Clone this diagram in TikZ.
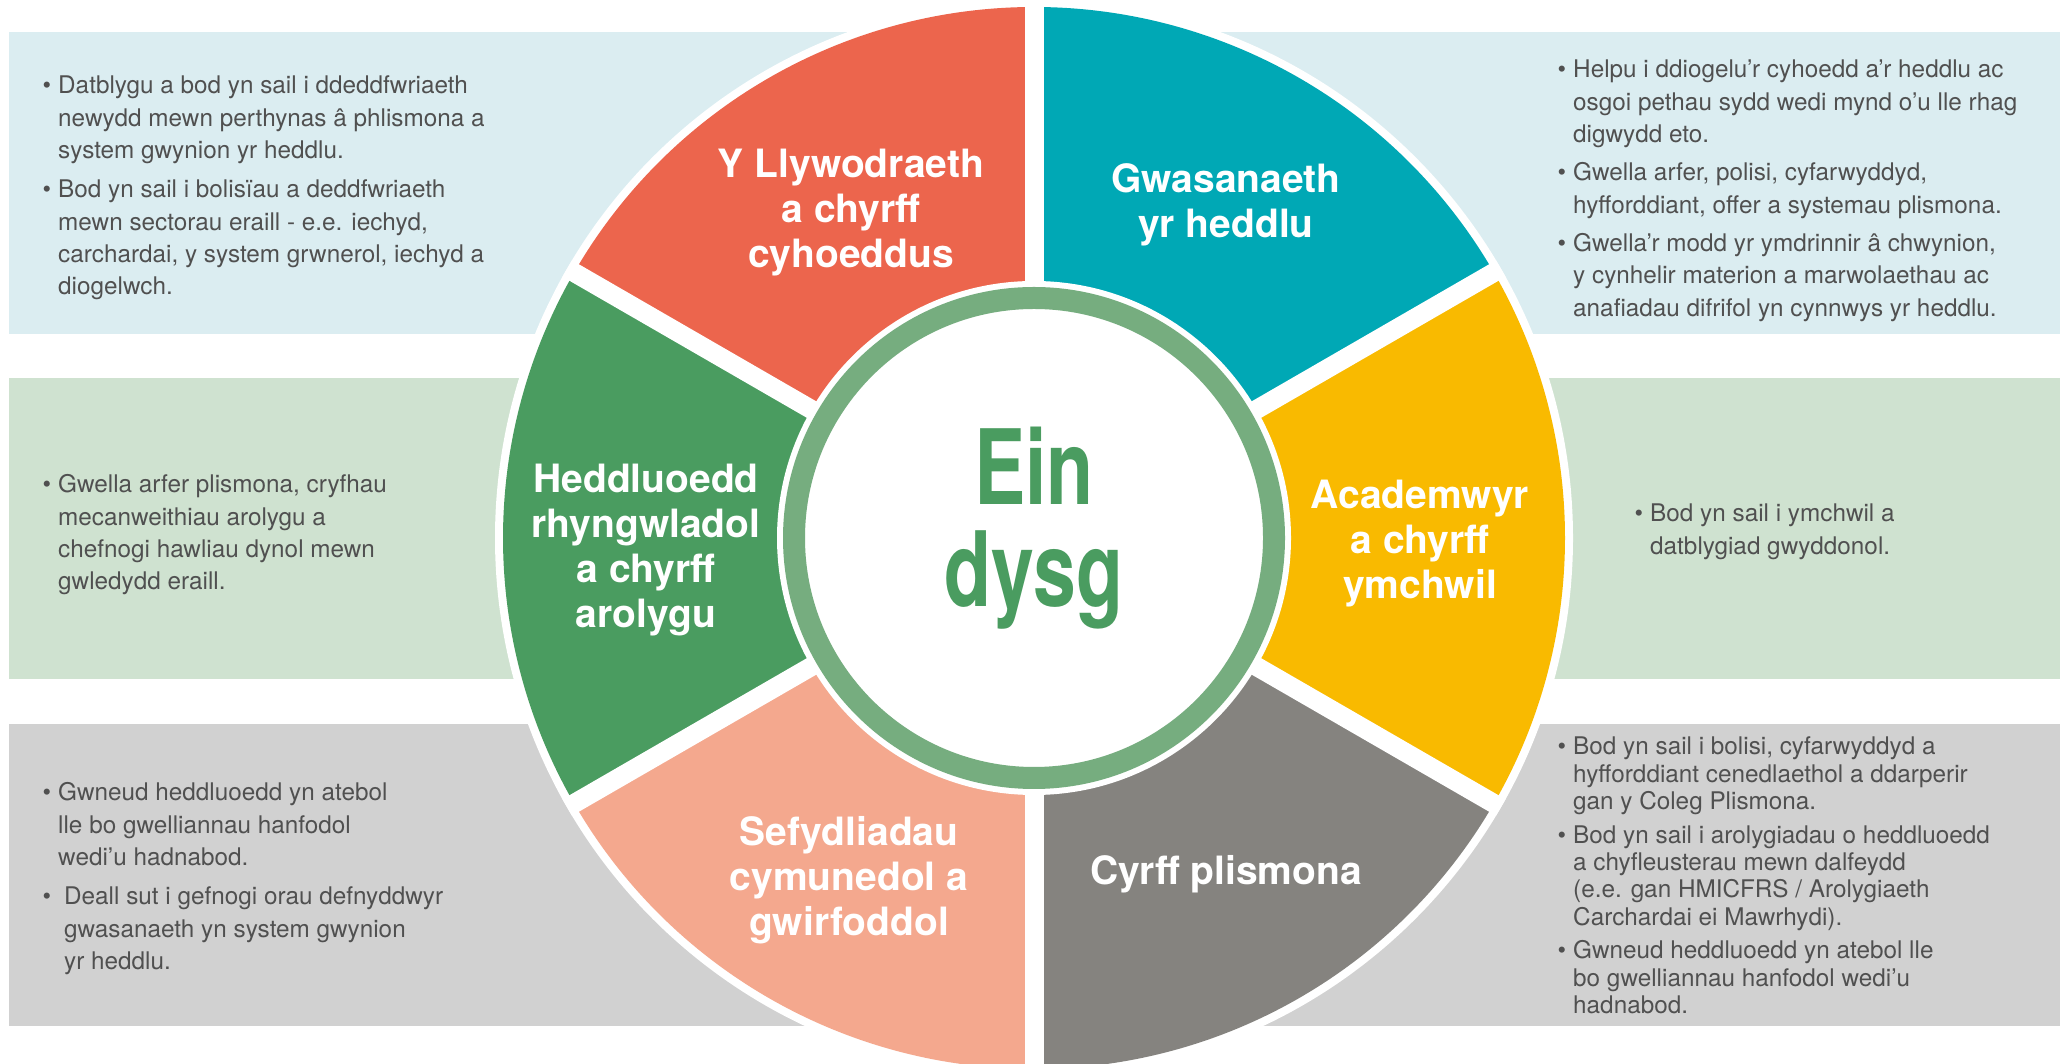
\documentclass[tikz,border=0pt]{standalone}
\usepackage{fontspec}
\setmainfont{TeX Gyre Heros}
\newfontfamily\condfont[FakeStretch=0.74]{TeX Gyre Heros}
\definecolor{bandblue}{HTML}{DBEDF1}
\definecolor{bandgreen}{HTML}{CFE2D0}
\definecolor{bandgray}{HTML}{D1D1D1}
\definecolor{secred}{HTML}{EC654D}
\definecolor{secteal}{HTML}{00A8B5}
\definecolor{secyellow}{HTML}{F9BA00}
\definecolor{secgray}{HTML}{85837F}
\definecolor{secsalmon}{HTML}{F4A88E}
\definecolor{secgreen}{HTML}{4A9C60}
\definecolor{ringgreen}{HTML}{76AD7F}
\definecolor{bodytext}{HTML}{505050}
\newcommand{\mybul}{\leavevmode\llap{\textbullet\hspace{7pt}}}
\tikzset{
  bodytxt/.style={anchor=base west, inner sep=0pt, text=bodytext, font=\fontsize{24.3}{32.3}\selectfont},
  tighttxt/.style={anchor=base west, inner sep=0pt, text=bodytext, font=\fontsize{24.3}{27.4}\selectfont},
  seclabel/.style={anchor=base, inner sep=0pt, text=white, font=\fontsize{39}{45}\selectfont\bfseries},
  bigtitle/.style={anchor=base, inner sep=0pt, text=secgreen, font=\fontsize{104}{102}\condfont\bfseries},
  gapline/.style={white, line width=19pt},
}
\begin{document}
\begin{tikzpicture}[x=1pt, y=1pt]
\useasboundingbox (0,0) rectangle (2067,1063);
\clip (0,0) rectangle (2067,1063);
\fill[white] (0,0) rectangle (2067,1063);
% background bands
\fill[bandblue]  (9,729) rectangle (2060,1031);
\fill[bandgreen] (9,384) rectangle (2060,685);
\fill[bandgray]  (9,37)  rectangle (2060,339);
% wheel
\coordinate (C) at (1034,525);
\fill[white] (C) circle[radius=539];
\fill[secteal]   (C) -- ++(30:531)  arc[start angle=30,  end angle=90,  radius=531] -- cycle;
\fill[secred]    (C) -- ++(90:531)  arc[start angle=90,  end angle=150, radius=531] -- cycle;
\fill[secgreen]  (C) -- ++(150:531) arc[start angle=150, end angle=210, radius=531] -- cycle;
\fill[secsalmon] (C) -- ++(210:531) arc[start angle=210, end angle=270, radius=531] -- cycle;
\fill[secgray]   (C) -- ++(270:531) arc[start angle=270, end angle=330, radius=531] -- cycle;
\fill[secyellow] (C) -- ++(330:531) arc[start angle=330, end angle=390, radius=531] -- cycle;
\foreach \a in {30,90,150,210,270,330}{
  \draw[gapline] (C) -- ++(\a:539);
}
\fill[white] (C) circle[radius=257];
\draw[ringgreen, line width=22pt] (C) circle[radius=240];
% centre title
\node[bigtitle] (title) at (1034,558) {\parbox[t]{400pt}{\centering Ein\\dysg}};
% sector labels
\node[seclabel] (lred) at (851,885) {\parbox[t]{400pt}{\centering Y Llywodraeth\\a chyrff\\cyhoeddus}};
\node[seclabel] (lteal) at (1226,870) {\parbox[t]{400pt}{\centering Gwasanaeth\\yr heddlu}};
\node[seclabel] (lyellow) at (1420,554) {\parbox[t]{400pt}{\centering Academwyr\\a chyrff\\ymchwil}};
\node[seclabel] (lgray) at (1226,178) {\parbox[t]{400pt}{\centering Cyrff plismona}};
\node[seclabel] (lsalmon) at (849,217) {\parbox[t]{400pt}{\centering Sefydliadau\\cymunedol a\\gwirfoddol}};
\node[seclabel] (lgreen) at (646,570) {\parbox[t]{400pt}{\centering Heddluoedd\\rhyngwladol\\a chyrff\\arolygu}};
% text blocks
\node[bodytxt] (tl) at (58,969) {\parbox[t]{520pt}{\raggedright
\mybul Datblygu a bod yn sail i ddeddfwriaeth\\
newydd mewn perthynas â phlismona a\\
system gwynion yr heddlu.\\[7pt]
\mybul Bod yn sail i bolisïau a deddfwriaeth\\
mewn sectorau eraill - e.e. iechyd,\\
carchardai, y system grwnerol, iechyd a\\
diogelwch.}};
\node[bodytxt] (tr) at (1573,985) {\parbox[t]{480pt}{\raggedright
\mybul Helpu i ddiogelu’r cyhoedd a’r heddlu ac\\
osgoi pethau sydd wedi mynd o’u lle rhag\\
digwydd eto.\\[6pt]
\mybul Gwella arfer, polisi, cyfarwyddyd,\\
hyfforddiant, offer a systemau plismona.\\[6pt]
\mybul Gwella’r modd yr ymdrinnir â chwynion,\\
y cynhelir materion a marwolaethau ac\\
anafiadau difrifol yn cynnwys yr heddlu.}};
\node[bodytxt] (ml) at (58,570) {\parbox[t]{480pt}{\raggedright
\mybul Gwella arfer plismona, cryfhau\\
mecanweithiau arolygu a\\
chefnogi hawliau dynol mewn\\
gwledydd eraill.}};
\node[bodytxt] (mr) at (1650,541) {\parbox[t]{400pt}{\raggedright
\mybul Bod yn sail i ymchwil a\\
datblygiad gwyddonol.}};
\node[bodytxt] (bl) at (58,262) {\parbox[t]{480pt}{\raggedright
\mybul Gwneud heddluoedd yn atebol\\
lle bo gwelliannau hanfodol\\
wedi’u hadnabod.\\[7pt]
\mybul\hspace*{6pt}Deall sut i gefnogi orau defnyddwyr\\
\hspace*{6pt}gwasanaeth yn system gwynion\\
\hspace*{6pt}yr heddlu.}};
\node[tighttxt] (br) at (1573,308) {\parbox[t]{480pt}{\raggedright
\mybul Bod yn sail i bolisi, cyfarwyddyd a\\
hyfforddiant cenedlaethol a ddarperir\\
gan y Coleg Plismona.\\[6pt]
\mybul Bod yn sail i arolygiadau o heddluoedd\\
a chyfleusterau mewn dalfeydd\\
(e.e. gan HMICFRS / Arolygiaeth\\
Carchardai ei Mawrhydi).\\[6pt]
\mybul Gwneud heddluoedd yn atebol lle\\
bo gwelliannau hanfodol wedi’u\\
hadnabod.}};
\end{tikzpicture}
\end{document}
